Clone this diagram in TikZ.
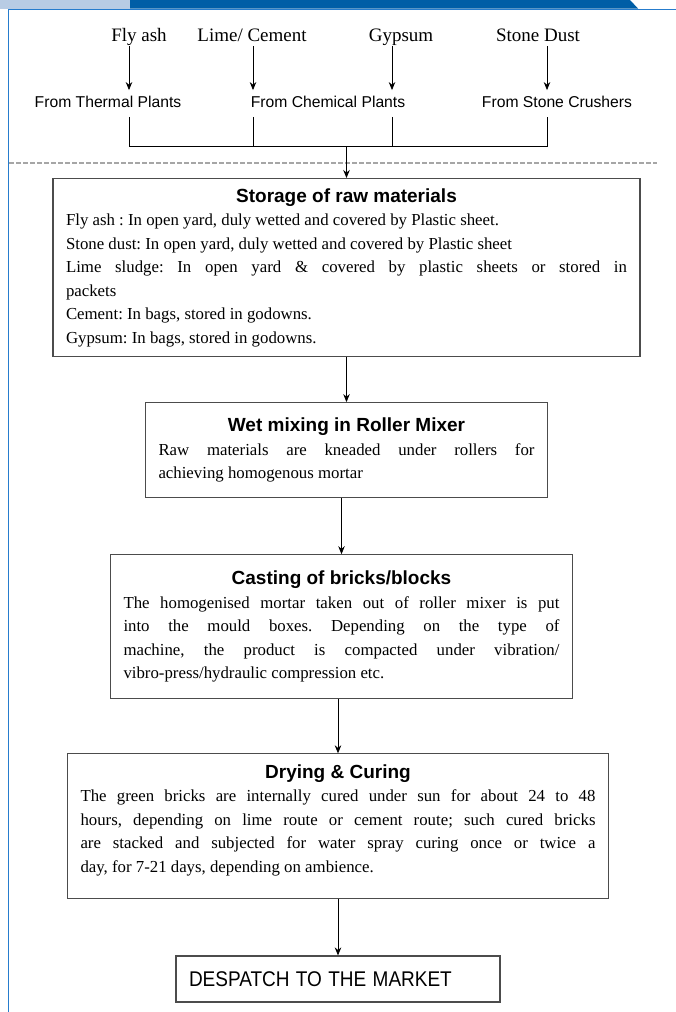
\documentclass[tikz,border=0pt]{standalone}
\usepackage{fontspec}
\setmainfont{Liberation Serif}
\newfontfamily\arialfont{Liberation Sans}
\usetikzlibrary{positioning}
\usetikzlibrary{arrows.meta}

\definecolor{hdrdark}{RGB}{0,94,166}
\definecolor{hdrlight}{RGB}{184,204,228}
\definecolor{frameblue}{RGB}{38,124,205}

\tolerance=10000
\hyphenpenalty=10000
\frenchspacing

\newcommand{\boxtitle}[1]{\makebox[\linewidth]{\arialfont\bfseries\fontsize{19}{24}\selectfont\rule{0pt}{14pt}#1}\\}

\tikzset{
  srcnode/.style={font=\fontsize{19}{22}\selectfont, anchor=base, text depth=4pt, inner sep=1pt},
  orgnode/.style={font=\arialfont\fontsize{15.7}{18}\selectfont, anchor=base, text height=11pt, text depth=3pt, inner xsep=2pt, inner ysep=6pt},
  stepbox/.style={draw=black!70, line width=1.1pt, text width=#1, inner xsep=13pt, inner ysep=6pt,
    align=justify, font=\fontsize{16.8}{23.5}\selectfont},
}

\begin{document}
\begin{tikzpicture}[>={Stealth[length=8pt,width=6.5pt]}, x=1pt, y=-1pt, line width=0.8pt]

\useasboundingbox (0,0) rectangle (676,1012);

% header band and frame
\fill[hdrlight] (0,0) rectangle (130,8.5);
\fill[hdrdark] (130,0) -- (630,0) -- (638,8.5) -- (130,8.5) -- cycle;
\draw[frameblue, line width=1.2pt] (8.5,1012) -- (8.5,9.5) -- (676,9.5);

% raw materials and sources
\node[srcnode] (fly) at (139,41) {Fly ash};
\node[srcnode] (lime) at (252,41) {Lime/ Cement};
\node[srcnode] (gyp) at (401,41) {Gypsum};
\node[srcnode] (stone) at (538,41) {Stone Dust};

\node[orgnode] (thermal) at (108,107.5) {From Thermal Plants};
\node[orgnode] (chemical) at (328,107.5) {From Chemical Plants};
\node[orgnode] (crushers) at (557,107.5) {From Stone Crushers};

\coordinate (j1) at (129,146);
\coordinate (j2) at (253,146);
\coordinate (j3) at (392,146);
\coordinate (j4) at (547,146);

\draw[->] (fly.south -| j1) -- (thermal.north -| j1);
\draw[->] (lime.south -| j2) -- (chemical.north -| j2);
\draw[->] (gyp.south -| j3) -- (chemical.north -| j3);
\draw[->] (stone.south -| j4) -- (crushers.north -| j4);

\draw (thermal.south -| j1) -- (j1) -- (j4) -- (crushers.south -| j4);
\draw (chemical.south -| j2) -- (j2);
\draw (chemical.south -| j3) -- (j3);

\draw[black!35, dash pattern=on 5pt off 2pt, line width=1.2pt] (9,163) -- (657,163);

% process steps
\node[stepbox=561pt, minimum height=178pt, anchor=north] (storage) at (346.5,178) {%
  \boxtitle{Storage of raw materials}
  Fly ash : In open yard, duly wetted and covered by Plastic sheet.\\
  Stone dust: In open yard, duly wetted and covered by Plastic sheet\\
  Lime sludge: In open yard \& covered by plastic sheets or stored in\linebreak packets\\
  Cement: In bags, stored in godowns.\\
  Gypsum: In bags, stored in godowns.};

\node[stepbox=376pt, minimum height=95pt] (wet) [below=45pt of storage] {%
  \boxtitle{Wet mixing in Roller Mixer}
  Raw materials are kneaded under rollers for\linebreak achieving homogenous mortar};

\node[stepbox=436pt, minimum height=144pt] (casting) [below=56pt of wet, xshift=-5pt] {%
  \boxtitle{Casting of bricks/blocks}
  The homogenised mortar taken out of roller mixer is put\linebreak
  into the mould boxes. Depending on the type of\linebreak
  machine, the product is compacted under vibration/\linebreak
  vibro-press/hydraulic compression etc.};

\node[stepbox=515pt, minimum height=145pt] (drying) [below=54pt of casting, xshift=-3.5pt] {%
  \boxtitle{Drying \& Curing}
  The green bricks are internally cured under sun for about 24 to 48\linebreak
  hours, depending on lime route or cement route; such cured bricks\linebreak
  are stacked and subjected for water spray curing once or twice a\linebreak
  day, for 7-21 days, depending on ambience.\rule[-16pt]{0pt}{1pt}};

\node[stepbox=298pt, minimum height=46pt, align=left, font=\arialfont\fontsize{19}{22}\selectfont] (despatch) [below=56pt of drying] {\scalebox{1}[1.12]{DESPATCH TO THE MARKET}};

\draw[->] (storage.north |- j1) -- (storage.north);
\draw[->] (storage.south -| wet.north) -- (wet.north);
\draw[->] (wet.south -| casting.north) -- (casting.north);
\draw[->] (casting.south -| drying.north) -- (drying.north);
\draw[->] (drying.south -| despatch.north) -- (despatch.north);

\end{tikzpicture}
\end{document}
